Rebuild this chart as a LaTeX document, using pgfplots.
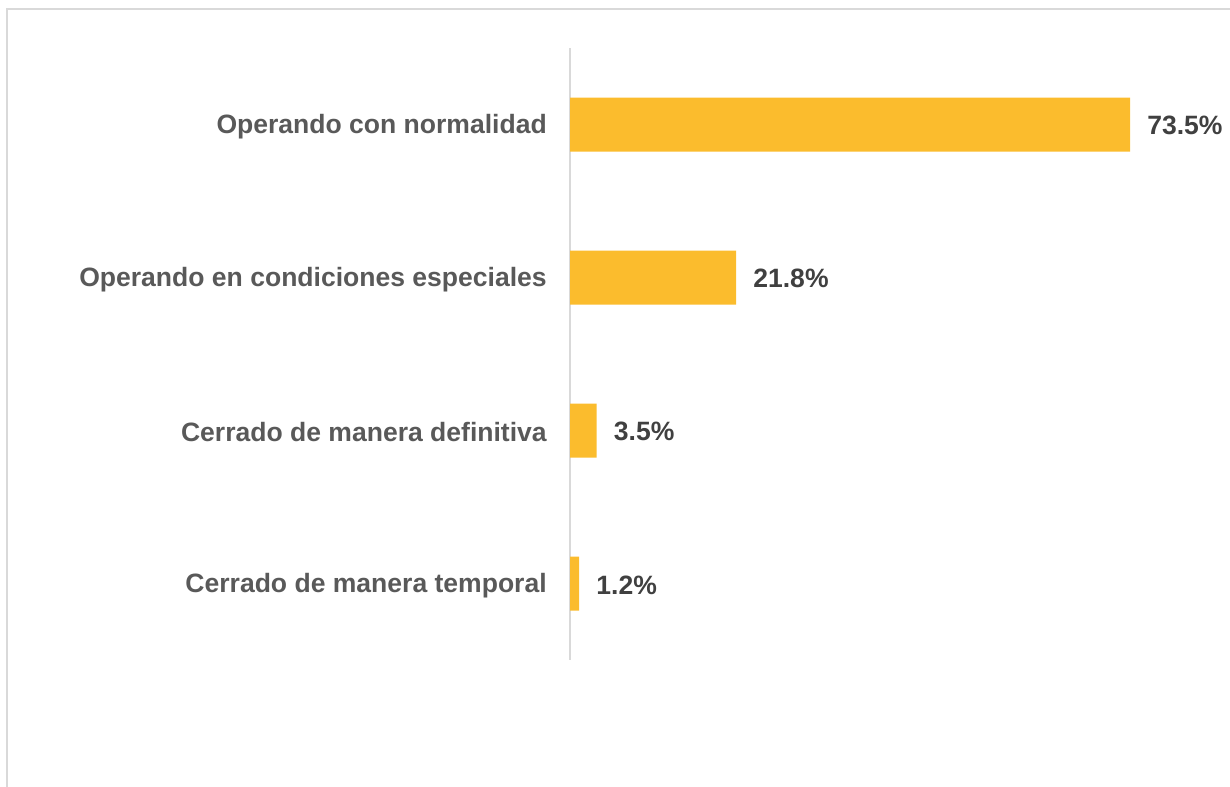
\documentclass[border=0pt]{standalone}
\usepackage{fontspec}
\setmainfont{Liberation Sans}
\usepackage{pgfplots}
\pgfplotsset{compat=1.18}
\definecolor{bargold}{HTML}{FBBC2D}
\definecolor{catgray}{HTML}{595959}
\definecolor{valgray}{HTML}{404040}
\definecolor{linegray}{HTML}{D9D9D9}
\begin{document}
\begin{tikzpicture}
\useasboundingbox (0,0) rectangle (922.5pt,-590.25pt);
\draw[linegray, line width=1.2pt] (5.25pt,-590.25pt) -- (5.25pt,-6.75pt) -- (922.5pt,-6.75pt);
\begin{axis}[
  at={(427.5pt,-36pt)}, anchor=north west,
  width=420pt, height=459pt, scale only axis,
  xmin=0, xmax=73.5, ymin=-0.5, ymax=3.5,
  y dir=reverse,
  clip=false,
  hide x axis,
  axis y line*=left,
  y axis line style={linegray, line width=1.5pt, -},
  ytick={0,1,2,3},
  yticklabels={Operando con normalidad, Operando en condiciones especiales, Cerrado de manera definitiva, Cerrado de manera temporal},
  major tick length=0pt,
  yticklabel style={font=\fontsize{19.9pt}{22pt}\selectfont\bfseries, text=catgray, anchor=east, inner sep=0pt, xshift=-17.25pt, yshift=-1.5pt},
  xbar, bar width=40.5pt, bar shift=0pt,
  nodes near coords={\pgfmathprintnumber[fixed,fixed zerofill,precision=1,assume math mode=true]{\pgfplotspointmeta}\%},
  nodes near coords style={font=\fontsize{19.9pt}{22pt}\selectfont\bfseries, text=valgray, anchor=west, inner sep=0pt, xshift=12.75pt, yshift=-1pt},
  point meta=x,
]
\addplot[fill=bargold, draw=none] coordinates {(73.5,0) (21.8,1) (3.5,2) (1.2,3)};
\end{axis}
\end{tikzpicture}
\end{document}
